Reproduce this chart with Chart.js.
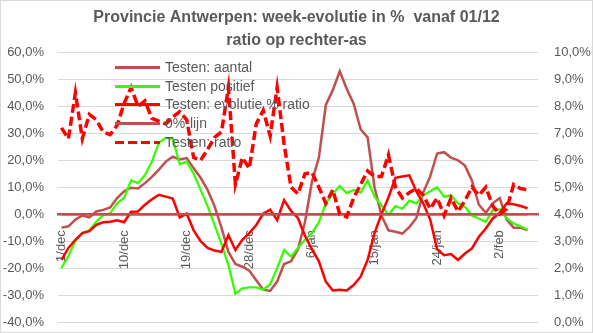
<!DOCTYPE html>
<html>
<head>
<meta charset="utf-8">
<script src="https://cdn.jsdelivr.net/npm/chart.js@4"></script>
<style>
    body { margin: 0; background: #fff; }
    #wrap { position: relative; width: 593px; height: 333px; }
    #frame { position: absolute; left: 0; top: 0; right: 0; bottom: 0; border: 1px solid #d9d9d9; pointer-events: none; }
    #legend { position: absolute; left: 115px; top: 58px; font: 14px 'Liberation Sans', Arial, sans-serif; color: #595959; }
    .item { position: relative; height: 18.7px; line-height: 18.7px; }
    .swatch { position: absolute; left: 0; top: 8px; width: 45px; height: 3px; }
    .txt { position: absolute; left: 50px; white-space: nowrap; }
</style>
</head>
<body>
<div id="wrap">
    <canvas id="chart"></canvas>
    <div id="legend"></div>
    <div id="frame"></div>
</div>
<script>
// Categories: 1/dec .. 8/feb
const dates = [
    '1/dec', '2/dec', '3/dec', '4/dec', '5/dec', '6/dec', '7/dec', '8/dec', '9/dec', '10/dec',
    '11/dec', '12/dec', '13/dec', '14/dec', '15/dec', '16/dec', '17/dec', '18/dec', '19/dec', '20/dec',
    '21/dec', '22/dec', '23/dec', '24/dec', '25/dec', '26/dec', '27/dec', '28/dec', '29/dec', '30/dec',
    '31/dec', '1/jan', '2/jan', '3/jan', '4/jan', '5/jan', '6/jan', '7/jan', '8/jan', '9/jan',
    '10/jan', '11/jan', '12/jan', '13/jan', '14/jan', '15/jan', '16/jan', '17/jan', '18/jan', '19/jan',
    '20/jan', '21/jan', '22/jan', '23/jan', '24/jan', '25/jan', '26/jan', '27/jan', '28/jan', '29/jan',
    '30/jan', '31/jan', '1/feb', '2/feb', '3/feb', '4/feb', '5/feb', '6/feb', '7/feb'
];

// week-evolutie in % (left axis)
const testenAantal = [
    -5, -4.5, -2, -0.5, -1.2, 1, 1.6, 2.5, 6, 8.5,
    9.8, 9.5, 11.5, 13.8, 16.5, 19.5, 21.3, 20.3, 20.8, 17,
    13.5, 9, 3, -5, -14, -18.5, -19.5, -21, -24.5, -28,
    -28.5, -25, -18.5, -17.5, -13, -3, 12, 21, 40.5, 46,
    53, 46.5, 41, 31.5, 28.5, 10, -0.5, -6, -6.5, -7.2,
    -4.8, -1.5, 8, 14, 22.5, 23, 21, 20, 18, 12.5,
    3.5, 0.5, 4, 6, -2, -5, -5, -6
];
const testenPositief = [
    -20, -15.5, -10, -7, -6, -2.8, -0.3, 0.3, 4, 6,
    12.5, 11.5, 14.5, 19.5, 26.5, 28.3, 28, 18.5, 19.5, 15,
    9, 3, -4, -11, -19, -29.5, -27.5, -27.2, -27.2, -28,
    -26, -20, -13.3, -15.7, -12.5, -9.5, -7, -3, 4, 7.5,
    10.5, 7.8, 9, 8, 12.5, 6.5, 3.3, -0.3, 3, 2,
    5, 4, 7, 8.5, 10, 6.5, 7, 4, 2.7, -0.5,
    -1.6, -2.8, 1.5, 1.8, -1.5, -3.5, -4.5, -5.8
];
const evolutieRatio = [
    -17, -12.5, -9.5, -7, -6.3, -4, -3, -2.8, -2.3, -3,
    0.9, 1, 3.5, 5.5, 7.2, 6.5, 5.8, -1.2, 0.2, -6,
    -10, -12.5, -13.5, -14, -7.8, -13.3, -9.5, -7, -4, 0.2,
    1.7, -2.2, 5.2, 1.2, -1.5, -8, -13, -17.5, -25, -28.3,
    -28, -28.3, -26.3, -23.2, -17, -7, 0, 6.2, 13.5, 14,
    14.4, 8.5, 4, -2, -13, -15.2, -14.8, -17, -14.6, -12.7,
    -8.4, -5.3, -1.6, 0.5, 4, 3.7, 3, 2.2
];
const nulLijn = [
    0, 0, 0, 0, 0, 0, 0, 0, 0, 0,
    0, 0, 0, 0, 0, 0, 0, 0, 0, 0,
    0, 0, 0, 0, 0, 0, 0, 0, 0, 0,
    0, 0, 0, 0, 0, 0, 0, 0, 0, 0,
    0, 0, 0, 0, 0, 0, 0, 0, 0, 0,
    0, 0, 0, 0, 0, 0, 0, 0, 0, 0,
    0, 0, 0, 0, 0, 0, 0, 0
];

// positiviteitsratio in % (right axis)
const testenRatio = [
    7.2, 6.8, 8.5, 6.8, 7.7, 7.5, 7.05, 6.95, 7.3, 8.1,
    8.7, 8.0, 8.2, 7.55, 7.45, 7.35, 7.6, 7.8, 7.5, 6.1,
    6.0, 6.4, 6.85, 7.05, 8.7, 5.1, 6.1, 5.7, 7.35, 7.85,
    6.9, 8.7, 6.6, 5.0, 4.75, 5.5, 5.55, 5.0, 4.4, 4.9,
    4.0, 3.9, 4.6, 5.1, 5.6, 5.4, 5.4, 6.2, 5.0, 4.6,
    4.8, 4.95, 4.7, 4.2, 4.6, 3.95, 4.6, 4.1, 4.5, 5.0,
    4.7, 5.0, 4.3, 4.0, 4.2, 5.1, 4.95, 4.9
];

const textColor = '#595959';
const brown = '#C0504D';
const green = '#33FF00';
const red = '#FF0000';

Chart.defaults.font.family = "'Liberation Sans', Arial, sans-serif";
Chart.defaults.color = textColor;

function pct(value) {
    return value.toFixed(1).replace('.', ',') + '%';
}

const series = [
    { label: 'Testen: aantal', data: testenAantal, color: brown, width: 2.5, axis: 'y', order: 5 },
    { label: 'Testen positief', data: testenPositief, color: green, width: 2.25, axis: 'y', order: 4 },
    { label: 'Testen: evolutie % ratio', data: evolutieRatio, color: red, width: 2.5, axis: 'y', order: 3 },
    { label: '0%-lijn', data: nulLijn, color: brown, width: 2.5, axis: 'y', order: 2 },
    { label: 'Testen: ratio', data: testenRatio, color: red, width: 3.5, axis: 'y1', order: 1, dash: [9, 4] }
];

const ctx = document.getElementById('chart').getContext('2d');
const chart = new Chart(ctx, {
    type: 'line',
    data: {
        labels: dates,
        datasets: series.map(function(s) {
            return {
                label: s.label,
                data: s.data,
                borderColor: s.color,
                backgroundColor: s.color,
                borderWidth: s.width,
                borderDash: s.dash || [],
                pointRadius: 0,
                tension: 0,
                yAxisID: s.axis,
                order: s.order
            };
        })
    },
    options: {
        responsive: true,
        maintainAspectRatio: false,
        animation: false,
        layout: {
            padding: { bottom: 11 }
        },
        plugins: {
            legend: { display: false },
            tooltip: { enabled: false },
            title: {
                display: true,
                text: ['Provincie Antwerpen: week-evolutie in %  vanaf 01/12', 'ratio op rechter-as'],
                color: textColor,
                font: { size: 16, weight: 'bold', lineHeight: 1.45 },
                padding: { top: 6, bottom: 0 }
            }
        },
        scales: {
            x: {
                position: { y: 0 },
                offset: true,
                grid: { display: false },
                border: { display: true, color: brown, width: 2.5 },
                ticks: {
                    autoSkip: false,
                    minRotation: 90,
                    maxRotation: 90,
                    padding: 8,
                    color: textColor,
                    font: { size: 13 },
                    callback: function(value, index) {
                        return index % 9 === 0 ? dates[index] : '';
                    }
                }
            },
            y: {
                position: 'left',
                min: -40,
                max: 60,
                grid: { color: '#D9D9D9', tickColor: 'transparent', tickLength: 14 },
                border: { display: false },
                ticks: {
                    stepSize: 10,
                    padding: 0,
                    color: textColor,
                    font: { size: 13 },
                    callback: pct
                },
                afterFit: function(scale) { scale.width = 58; }
            },
            y1: {
                position: 'right',
                min: 0,
                max: 10,
                grid: { drawOnChartArea: false, tickColor: 'transparent', tickLength: 16 },
                border: { display: false },
                ticks: {
                    stepSize: 1,
                    padding: 0,
                    color: textColor,
                    font: { size: 13 },
                    callback: pct
                },
                afterFit: function(scale) { scale.width = 55; }
            }
        }
    }
});

// Legend inside the plot area, like the original
const legendEl = document.getElementById('legend');
series.forEach(function(s) {
    const item = document.createElement('div');
    item.className = 'item';
    const sw = document.createElement('div');
    sw.className = 'swatch';
    if (s.dash) {
        sw.style.height = '3.5px';
        sw.style.background = 'repeating-linear-gradient(to right, ' + s.color + ' 0 9px, transparent 9px 13px)';
    } else {
        sw.style.background = s.color;
    }
    const txt = document.createElement('span');
    txt.className = 'txt';
    txt.textContent = s.label;
    item.appendChild(sw);
    item.appendChild(txt);
    legendEl.appendChild(item);
});
</script>
</body>
</html>
